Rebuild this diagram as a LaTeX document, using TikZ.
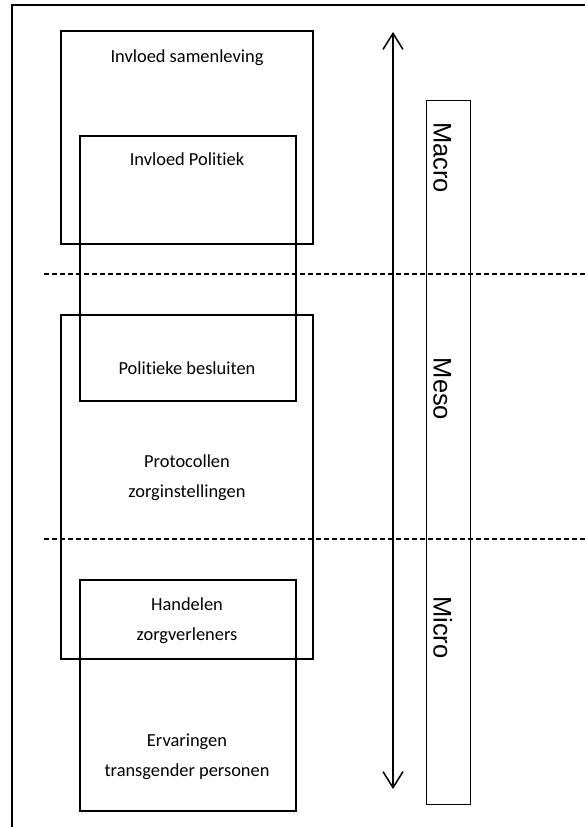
\documentclass[tikz,border=0pt]{standalone}
\usepackage{fontspec}
\setmainfont{Carlito}[Ligatures=NoCommon, RawFeature={-liga;-dlig}]
\newfontfamily\levelfont{Liberation Sans}
\usetikzlibrary{arrows.meta}

\tikzset{
  box/.style={draw, line width=2pt, inner sep=0pt, outer sep=0pt, anchor=north west},
  levelbox/.style={draw, line width=1pt, inner sep=0pt, outer sep=0pt, anchor=north west},
  boxtext/.style={font=\fontsize{18.4}{30}\selectfont, align=center, anchor=base, inner sep=0pt},
  leveltext/.style={font=\levelfont\fontsize{25.5}{30}\selectfont, rotate=-90, anchor=base, inner sep=0pt},
  divider/.style={line width=1.3pt, dash pattern=on 5pt off 3pt},
  scale arrow/.style={line width=1.5pt, {Straight Barb[length=16pt,width=20pt,line width=1.5pt]}-{Straight Barb[length=16pt,width=20pt,line width=1.5pt]}}
}

\begin{document}
\begin{tikzpicture}[x=1pt,y=-1pt]
  \useasboundingbox (0,0) rectangle (585,827);
  % outer frame (runs off the right and bottom edges)
  \draw[line width=2pt] (12,840) -- (12,5) -- (600,5);

  % nested boxes
  \node[box, minimum width=252pt, minimum height=213pt] (samenleving) at (61,31) {};
  \node[box, minimum width=216pt, minimum height=265pt] (politiek) at (80,136) {};
  \node[box, minimum width=252pt, minimum height=344pt] (protocollen) at (61,315) {};
  \node[box, minimum width=216pt, minimum height=231pt] (zorg) at (80,580) {};

  % box labels (base anchor sits on the last line)
  \node[boxtext] (tsamen) at (187,62) {Invloed samenleving};
  \node[boxtext] (tpol) at (187,165) {Invloed Politiek};
  \node[boxtext] (tbes) at (187,374) {Politieke besluiten};
  \node[boxtext] (tprot) at (187,497) {Protocollen\\zorginstellingen};
  \node[boxtext] (thand) at (187,640) {Handelen\\zorgverleners};
  \node[boxtext] (terv) at (187,776) {Ervaringen\\transgender personen};

  % level dividers
  \coordinate (d1a) at (44,274);
  \coordinate (d1b) at (585,274);
  \coordinate (d2a) at (44,539);
  \coordinate (d2b) at (585,539);
  \draw[divider] (d1a) -- (d1b);
  \draw[divider] (d2a) -- (d2b);

  % macro-micro scale arrow
  \coordinate (atop) at (393,32);
  \coordinate (abot) at (393,789);
  \draw[scale arrow] (atop) -- (abot);

  % level column
  \node[levelbox, minimum width=44pt, minimum height=704pt] (levels) at (426,100) {};
  \node[leveltext] (macro) at (433.5,157.5) {Macro};
  \node[leveltext] (meso) at (433.5,389) {Meso};
  \node[leveltext] (micro) at (433.5,627.5) {Micro};
\end{tikzpicture}
\end{document}
